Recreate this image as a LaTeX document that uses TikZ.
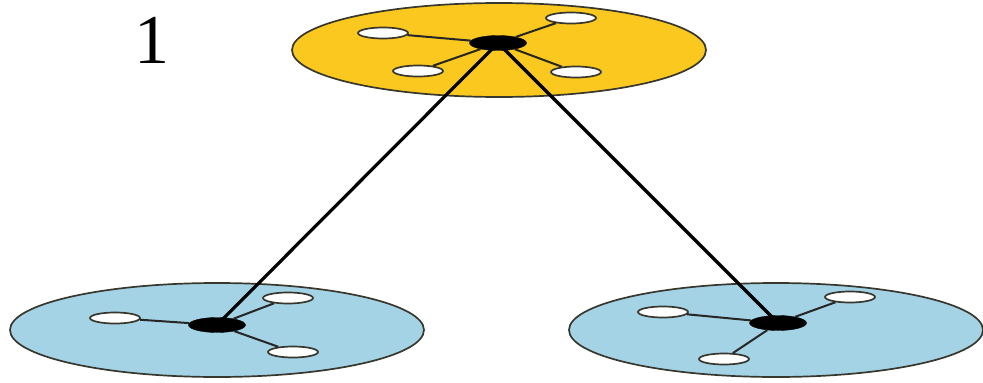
\documentclass[tikz,border=0pt]{standalone}
\usepackage{fontspec}
\setmainfont{Liberation Serif}
\usetikzlibrary{shapes.geometric}
\definecolor{diskyellow}{RGB}{250,200,30}
\definecolor{diskblue}{RGB}{164,211,229}
\definecolor{rimcol}{RGB}{55,55,45}
\begin{document}
\begin{tikzpicture}[x=1pt,y=-1pt,
  disk/.style={ellipse, draw=rimcol, line width=1.7pt, inner sep=0pt, minimum width=414pt, minimum height=94pt},
  hub/.style={ellipse, fill=black, draw=black, inner sep=0pt, minimum width=57pt, minimum height=15pt},
  sat/.style={ellipse, fill=white, draw=rimcol, line width=1.7pt, inner sep=0pt, minimum width=50pt, minimum height=11pt},
  spoke/.style={draw=black!85, line width=2pt},
  link/.style={draw=black, line width=3.2pt}]
\useasboundingbox (0,0) rectangle (983,383);
% disks
\node[disk, fill=diskyellow] (topdisk) at (499,50) {};
\node[disk, fill=diskblue] (ldisk) at (217,330) {};
\node[disk, fill=diskblue] (rdisk) at (776,330) {};
% label
\node[font=\fontsize{70}{70}\selectfont, inner sep=0pt] (lbl) at (152,40) {1};
% top cluster
\node[hub] (th) at (498,43) {};
\node[sat] (t1) at (383,33) {};
\node[sat] (t2) at (571,18) {};
\node[sat] (t3) at (418,71) {};
\node[sat] (t4) at (576,72) {};
\draw[spoke] (th) -- (t1);
\draw[spoke] (th) -- (t2);
\draw[spoke] (th) -- (t3);
\draw[spoke] (th) -- (t4);
% left cluster
\node[hub] (lh) at (217,325) {};
\node[sat] (l1) at (115,318) {};
\node[sat] (l2) at (288,298) {};
\node[sat] (l3) at (293,352) {};
\draw[spoke] (lh) -- (l1);
\draw[spoke] (lh) -- (l2);
\draw[spoke] (lh) -- (l3);
% right cluster
\node[hub] (rh) at (778,323) {};
\node[sat] (r1) at (663,312) {};
\node[sat] (r2) at (850,297) {};
\node[sat] (r3) at (724,359) {};
\draw[spoke] (rh) -- (r1);
\draw[spoke] (rh) -- (r2);
\draw[spoke] (rh) -- (r3);
% links
\draw[link] (th.center) -- (lh.center);
\draw[link] (th.center) -- (rh.center);
\end{tikzpicture}
\end{document}
